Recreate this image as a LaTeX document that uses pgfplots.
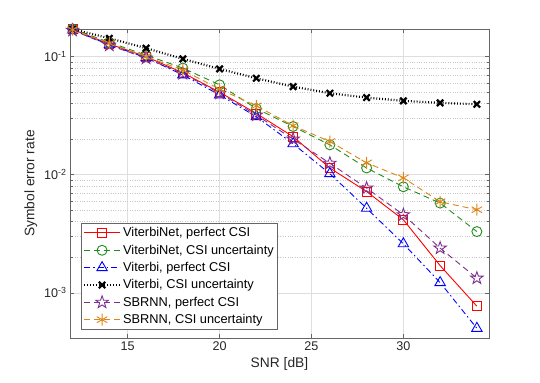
\documentclass[border=0pt]{standalone}
\usepackage{fontspec}
\setmainfont{Liberation Sans}
\usepackage{pgfplots}
\pgfplotsset{compat=1.18}
\definecolor{mgreen}{rgb}{0.12,0.55,0.12}
\definecolor{mpurple}{rgb}{0.49,0.18,0.56}
\definecolor{morange}{rgb}{0.87,0.52,0.08}
\definecolor{gridc}{rgb}{0.87,0.87,0.87}
\pgfdeclareplotmark{pstar}{%
  \pgfpathmoveto{\pgfpointpolar{90}{\pgfplotmarksize}}%
  \pgfpathlineto{\pgfpointpolar{126}{0.4\pgfplotmarksize}}%
  \pgfpathlineto{\pgfpointpolar{162}{\pgfplotmarksize}}%
  \pgfpathlineto{\pgfpointpolar{198}{0.4\pgfplotmarksize}}%
  \pgfpathlineto{\pgfpointpolar{234}{\pgfplotmarksize}}%
  \pgfpathlineto{\pgfpointpolar{270}{0.4\pgfplotmarksize}}%
  \pgfpathlineto{\pgfpointpolar{306}{\pgfplotmarksize}}%
  \pgfpathlineto{\pgfpointpolar{342}{0.4\pgfplotmarksize}}%
  \pgfpathlineto{\pgfpointpolar{18}{\pgfplotmarksize}}%
  \pgfpathlineto{\pgfpointpolar{54}{0.4\pgfplotmarksize}}%
  \pgfpathclose
  \pgfusepathqstroke
}
\begin{document}
\begin{tikzpicture}
\useasboundingbox (0,0) rectangle (540bp,383bp);
\begin{axis}[
  at={(70bp,45bp)}, anchor=south west,
  scale only axis, width=419bp, height=309bp,
  xmin=11.86, xmax=34.66, ymin=4.14e-4, ymax=0.1714,
  ymode=log,
  xtick={15,20,25,30},
  ytick={1e-3,1e-2,1e-1},
  yticklabels={10\textsuperscript{-3},10\textsuperscript{-2},10\textsuperscript{-1}},
  /pgf/number format/assume math mode=true,
  tick label style={font=\fontsize{12.6bp}{14bp}\selectfont, text=black!85},
  label style={font=\fontsize{13.8bp}{15bp}\selectfont, text=black!85},
  xlabel={SNR [dB]}, ylabel={Symbol error rate},
  xmajorgrids, ymajorgrids, yminorgrids,
  major grid style={gridc, line width=0.5pt},
  minor grid style={gridc!90!black, dotted, line width=0.5pt},
  axis line style={black!60, line width=0.6pt},
  tick style={black!60, line width=0.5pt},
  tick align=inside,
  major tick length=4bp, minor tick length=2.5bp,
  legend style={at={(0.0255,0.028)}, anchor=south west, draw=black!60, line width=0.6pt,
    font=\fontsize{12.8bp}{14bp}\selectfont, row sep=2.6bp, inner sep=2bp},
  legend cell align=left,
  legend image code/.code={
    \draw[mark repeat=2,mark phase=2] plot coordinates {(0bp,0bp) (18bp,0bp) (36bp,0bp)};
  },
  every axis plot/.append style={line width=0.9pt},
  clip=false,
]
\addplot[red, solid, mark=square, mark size=4.5bp, mark options={solid}] coordinates {
(12,0.170) (14,0.128) (16,0.100) (18,0.073) (20,0.050) (22,0.033) (24,0.021)
(26,0.0114) (28,0.0072) (30,0.00415) (32,0.0017) (34,0.00077)};
\addlegendentry{ViterbiNet, perfect CSI}
\addplot[mgreen, dash pattern=on 6bp off 4bp, mark=o, mark size=5bp, mark options={solid}] coordinates {
(12,0.172) (14,0.132) (16,0.103) (18,0.080) (20,0.0577) (22,0.0363) (24,0.0256)
(26,0.0179) (28,0.0114) (30,0.0079) (32,0.00575) (34,0.0033)};
\addlegendentry{ViterbiNet, CSI uncertainty}
\addplot[blue, dash pattern=on 6bp off 3bp on 1.5bp off 3bp, mark=triangle, mark size=6bp, mark options={solid}] coordinates {
(12,0.168) (14,0.126) (16,0.098) (18,0.070) (20,0.0474) (22,0.031) (24,0.0183)
(26,0.0102) (28,0.0052) (30,0.0026) (32,0.00122) (34,0.00050)};
\addlegendentry{Viterbi, perfect CSI}
\addplot[black, dotted, line width=2.2pt, mark=x, mark size=4.5bp, mark options={solid, line width=2.2pt}] coordinates {
(12,0.171) (14,0.143) (16,0.118) (18,0.0957) (20,0.0787) (22,0.0656) (24,0.0557)
(26,0.049) (28,0.045) (30,0.0422) (32,0.0406) (34,0.0395)};
\addlegendentry{Viterbi, CSI uncertainty}
\addplot[mpurple, dash pattern=on 6bp off 4bp, mark=pstar, mark size=6.5bp, mark options={solid}] coordinates {
(12,0.167) (14,0.125) (16,0.097) (18,0.072) (20,0.049) (22,0.032) (24,0.020)
(26,0.0125) (28,0.0077) (30,0.00458) (32,0.00239) (34,0.00133)};
\addlegendentry{SBRNN, perfect CSI}
\addplot[morange, dash pattern=on 6bp off 4bp, mark=asterisk, mark size=6bp, mark options={solid}] coordinates {
(12,0.169) (14,0.130) (16,0.100) (18,0.077) (20,0.053) (22,0.0383) (24,0.026)
(26,0.0191) (28,0.0126) (30,0.0094) (32,0.0059) (34,0.00505)};
\addlegendentry{SBRNN, CSI uncertainty}
\end{axis}
\end{tikzpicture}
\end{document}
